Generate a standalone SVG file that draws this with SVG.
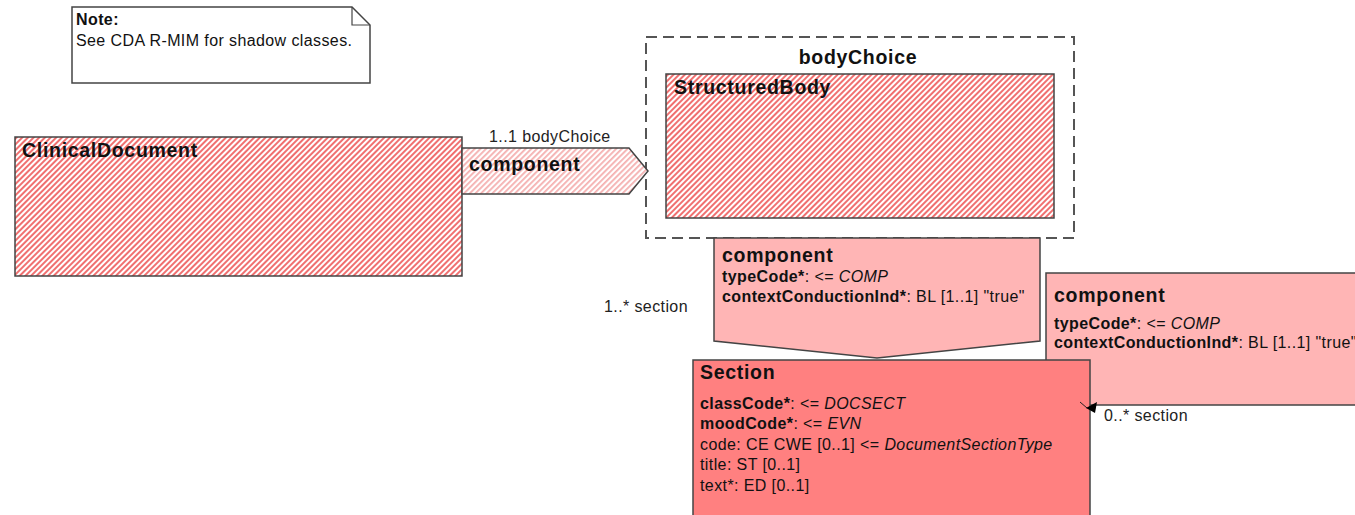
<svg xmlns="http://www.w3.org/2000/svg" width="1355" height="515" viewBox="0 0 1355 515">
<defs>
<pattern id="hatch" patternUnits="userSpaceOnUse" width="4" height="4" patternTransform="rotate(45)">
<rect width="4" height="4" fill="#ffffff"/>
<rect width="2" height="4" fill="#f07070"/>
</pattern>
<pattern id="hatchLight" patternUnits="userSpaceOnUse" width="4" height="4" patternTransform="rotate(45)">
<rect width="4" height="4" fill="#ffffff"/>
<rect width="1.8" height="4" fill="#f5b0b0"/>
</pattern>
<style>
text{font-family:"Liberation Sans",Arial,sans-serif;fill:#111}
.title{font-size:19.5px;font-weight:bold;letter-spacing:0.7px}
.attr{font-size:16px;letter-spacing:0.4px}
.b{font-weight:bold}
.i{font-style:italic}
.lbl{font-size:16px;letter-spacing:0.4px;fill:#222}
.box{stroke:#444;stroke-width:1.5}
</style>
</defs>

<g id="note">
<path d="M72,7 H352 L370,25 V83 H72 Z" fill="#fff" stroke="#444" stroke-width="1.5"/>
<path d="M352,7 V25 H370" fill="none" stroke="#444" stroke-width="1.2"/>
<text x="76" y="25" class="attr b">Note:</text>
<text x="76" y="46" class="attr">See CDA R-MIM for shadow classes.</text>
</g>

<g id="bodyChoice">
<rect x="646" y="37" width="428" height="201" fill="#fff" stroke="#555" stroke-width="2" stroke-dasharray="11 6"/>
<text x="858" y="64" class="title" text-anchor="middle">bodyChoice</text>
</g>

<g id="clinicalDocument">
<rect x="15" y="137" width="447" height="139" fill="url(#hatch)" class="box"/>
<text x="22" y="157" class="title">ClinicalDocument</text>
</g>

<g id="structuredBody">
<rect x="666" y="74" width="388" height="144" fill="url(#hatch)" class="box"/>
<text x="674" y="94" class="title">StructuredBody</text>
</g>

<g id="componentArrow">
<path d="M462,148 H629 L648,171 L629,194 H462 Z" fill="url(#hatchLight)" class="box"/>
<text x="469" y="171" class="title">component</text>
</g>

<g id="componentRight">
<rect x="1046" y="273" width="320" height="132" fill="#ffb5b5" class="box"/>
<text x="1054" y="302" class="title">component</text>
<text x="1054" y="329" class="attr"><tspan class="b">typeCode*</tspan>: &lt;= <tspan class="i">COMP</tspan></text>
<text x="1054" y="348" class="attr"><tspan class="b">contextConductionInd*</tspan>: BL [1..1] "true"</text>
</g>

<g id="componentMiddle">
<path d="M714,238 H1040 V341 L877,358 L714,341 Z" fill="#ffb5b5" class="box"/>
<text x="722" y="262" class="title">component</text>
<text x="722" y="282" class="attr"><tspan class="b">typeCode*</tspan>: &lt;= <tspan class="i">COMP</tspan></text>
<text x="722" y="302" class="attr"><tspan class="b">contextConductionInd*</tspan>: BL [1..1] "true"</text>
</g>

<g id="section">
<rect x="693" y="360" width="397" height="158" fill="#ff8080" class="box"/>
<text x="700" y="379" class="title">Section</text>
<text x="700" y="409" class="attr"><tspan class="b">classCode*</tspan>: &lt;= <tspan class="i">DOCSECT</tspan></text>
<text x="700" y="429" class="attr"><tspan class="b">moodCode*</tspan>: &lt;= <tspan class="i">EVN</tspan></text>
<text x="700" y="450" class="attr">code: CE CWE [0..1] &lt;= <tspan class="i">DocumentSectionType</tspan></text>
<text x="700" y="470" class="attr">title: ST [0..1]</text>
<text x="700" y="491" class="attr">text*: ED [0..1]</text>
</g>

<g id="connectors">
<text x="489" y="142" class="lbl">1..1 bodyChoice</text>
<text x="604" y="312" class="lbl">1..* section</text>
<line x1="1080" y1="402" x2="1087" y2="408" stroke="#222" stroke-width="1"/>
<polygon points="1086,408 1097,402 1095,413" fill="#000"/>
<text x="1104" y="421" class="lbl">0..* section</text>
</g>
</svg>
